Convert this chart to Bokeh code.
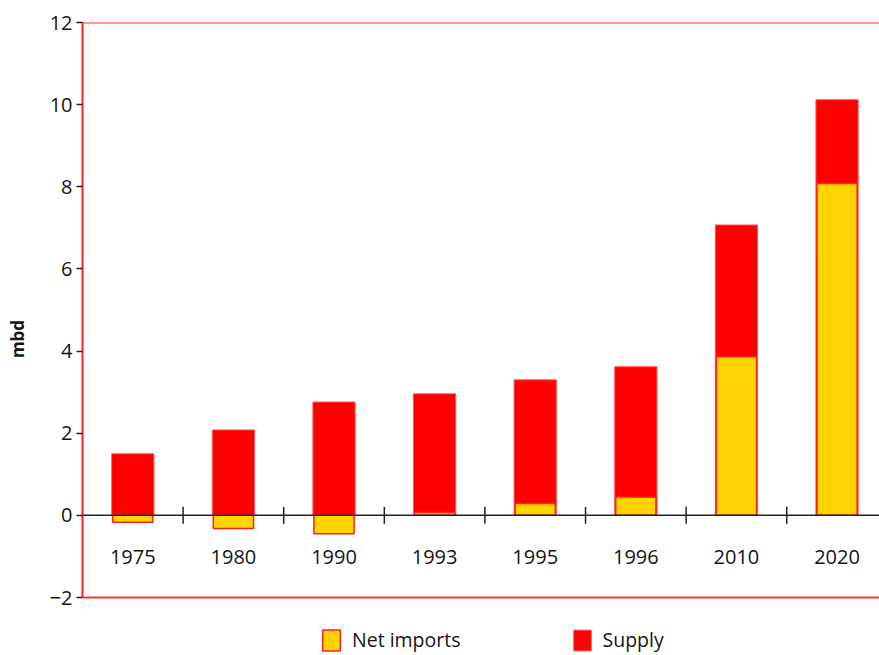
import math
from bokeh.plotting import figure
from bokeh.models import (ColumnDataSource, Range1d, LinearAxis, FixedTicker,
                          Span, Legend, LegendItem)
from bokeh.core.properties import value
from bokeh.embed import file_html
from bokeh.resources import INLINE

years = ["1975", "1980", "1990", "1993", "1995", "1996", "2010", "2020"]
supply = [1.50, 2.08, 2.76, 2.96, 3.30, 3.62, 7.07, 10.12]
net_imports = [-0.17, -0.32, -0.45, 0.07, 0.29, 0.45, 3.86, 8.08]
y_ticks = [-2, 0, 2, 4, 6, 8, 10, 12]

FONT = "Open Sans"
TXT = "#151515"

xs = [i + 0.5 for i in range(len(years))]
bounds = list(range(1, len(years) + 1))
src = ColumnDataSource(dict(x=xs, year=years, supply=supply, imports=net_imports,
                            zero=[0] * len(years)))
bsrc = ColumnDataSource(dict(x=bounds, zero=[0] * len(bounds)))

# frame extends below -2 to leave room for the legend inside it
p = figure(frame_width=797, frame_height=633, output_backend="svg", toolbar_location=None,
           x_range=Range1d(0, 7.922), y_range=Range1d(-3.412, 12),
           x_axis_location=None, y_axis_location=None,
           min_border_left=82, min_border_right=0, min_border_top=22,
           min_border_bottom=0)
p.outline_line_color = None
p.xgrid.visible = False
p.ygrid.visible = False
p.background_fill_color = "white"
p.border_fill_color = "white"

r_supply = p.vbar(x="x", top="supply", bottom=0, width=0.42, source=src,
                  fill_color="#ff0000", line_color="#ff5a5a", line_width=1)
r_imp = p.vbar(x="x", top="imports", bottom=0, width=0.40, source=src,
               fill_color="#ffd400", line_color="#ff2020", line_width=1.5)

# zero line, boundary ticks, category labels
p.add_layout(Span(location=0, dimension="width", line_color="#222222", line_width=1.5))
p.scatter(x="x", y="zero", source=bsrc, marker="dash", angle=math.pi / 2, size=17,
          line_color="#222222", line_width=1.5)
p.text(x="x", y="zero", text="year", source=src, y_offset=42,
       text_align="center", text_baseline="middle",
       text_font=value(FONT), text_font_size="20px", text_color=TXT)

# frame top / bottom lines
p.add_layout(Span(location=12, dimension="width", line_color="#ff3030", line_width=2))
p.add_layout(Span(location=-2, dimension="width", line_color="#ff3030", line_width=2))

# y axis
yax = LinearAxis(ticker=FixedTicker(ticks=y_ticks), axis_label="mbd", bounds=(-2, 12))
yax.axis_line_color = "#ff2020"
yax.axis_line_width = 2
yax.major_tick_in = 0
yax.major_tick_out = 6
yax.major_tick_line_color = "#222222"
yax.major_tick_line_width = 1.5
yax.minor_tick_line_color = None
yax.major_label_text_font = FONT
yax.major_label_text_font_size = "20px"
yax.major_label_text_color = TXT
yax.major_label_standoff = 4
yax.axis_label_text_font = FONT
yax.axis_label_text_font_size = "17px"
yax.axis_label_text_font_style = "bold"
yax.axis_label_text_color = TXT
yax.axis_label_standoff = 18
p.add_layout(yax, "left")

legend = Legend(items=[LegendItem(label="Net imports", renderers=[r_imp]),
                       LegendItem(label="Supply", renderers=[r_supply])],
                orientation="horizontal", location=(238, 2),
                glyph_width=22, glyph_height=26, spacing=110, padding=0, margin=0,
                label_text_font=FONT, label_text_font_size="19.5px",
                label_text_color=TXT, label_standoff=10,
                border_line_color=None, background_fill_alpha=0)
p.add_layout(legend)

open("out.html", "w").write(file_html(p, INLINE))
